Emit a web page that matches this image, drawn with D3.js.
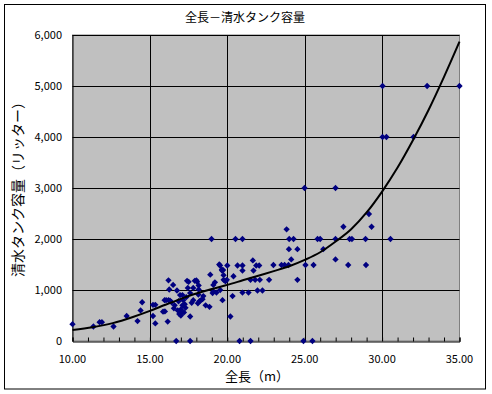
<!DOCTYPE html>
<html>
<head>
<meta charset="utf-8">
<script src="https://cdn.jsdelivr.net/npm/d3@7"></script>
<style>
  body { margin: 0; background: #fff; }
  svg text { font-family: "Noto Sans CJK JP", "DejaVu Sans", sans-serif; fill: #000; }
</style>
</head>
<body>
<svg id="chart" width="492" height="394"></svg>
<script>
// scatter points: length (m) and fresh water tank (L)
const lengthM = [
  10.0, 11.35, 11.75, 11.9, 12.65, 13.5, 14.2, 14.4, 14.5,
  15.2, 15.2, 15.35, 15.35, 15.85, 15.95, 16.05, 16.2, 16.3, 15.97, 16.15,
  16.2, 16.5, 16.25, 16.75, 16.7, 16.8, 16.85, 16.9, 16.95, 17.1, 17.0, 17.0,
  17.1, 17.15, 17.2, 17.3, 17.4, 17.45, 17.5, 17.6, 17.6, 17.6, 17.7, 17.8,
  17.9, 18.05, 18.0, 18.15, 18.15, 18.13, 18.2, 18.3, 18.45, 18.6, 18.85,
  18.9, 18.98, 19.05, 19.1, 19.1, 19.3, 19.48, 19.53, 19.65, 19.66, 19.69,
  19.73, 19.76, 19.76, 19.88, 19.97, 20.0, 19.54, 20.2, 20.34, 20.4, 20.53,
  20.66, 20.79, 20.98, 20.98, 20.98, 20.98, 21.37, 21.5, 21.5, 21.65, 21.69,
  21.87, 21.8, 21.95, 22.06, 22.1, 22.27, 22.7, 22.98, 23.5, 23.7, 23.83,
  23.95, 23.98, 24.0, 24.13, 24.28, 24.53, 24.53, 24.92, 24.99, 25.05, 25.5,
  25.57, 25.83, 26.0, 26.2, 26.99, 26.99, 26.99, 27.5, 27.81, 27.9, 28.05,
  28.93, 28.96, 29.15, 29.32, 30.03, 30.03, 30.28, 30.54, 32.03, 32.91, 35.0,
  16.6, 16.4, 17.35, 17.8, 18.1, 17.25, 19.2, 16.55, 17.05, 18.4
];
const tankL = [
  330, 285, 370, 370, 285, 490, 390, 600, 760,
  710, 490, 345, 710, 575, 800, 800, 800, 790, 580, 380,
  1190, 1100, 1010, 990, 0, 600, 780, 530, 900, 900, 620, 500,
  700, 800, 560, 650, 1180, 1040, 1160, 940, 0, 480, 750, 1040,
  1180, 1160, 1190, 1090, 1010, 910, 780, 800, 880, 700, 670,
  1300, 2000, 940, 1100, 970, 950, 1500, 1480, 1400, 1380, 800,
  1390, 1290, 1200, 1170, 1200, 1480, 1000, 480, 880, 1270, 2000,
  1480, 0, 2000, 1480, 1380, 950, 950, 0, 1200, 1580, 1380,
  1480, 1200, 990, 1480, 1200, 990, 1200, 1490, 1490, 1490, 2190,
  1490, 1800, 2000, 1600, 2000, 1800, 1200, 0, 3000, 1490, 0,
  1490, 2000, 2000, 1800, 3000, 2000, 1600, 2240, 1490, 2000, 2000,
  2000, 1490, 2490, 2240, 5000, 4000, 4000, 2000, 4000, 5000, 5000,
  700, 760, 860, 800, 740, 720, 1150, 640, 560, 820
];

// trend line
const trendX = [10, 11.3, 12.6, 13.9, 15, 16, 17, 18, 19, 20, 21, 22, 23, 24, 25, 26, 27, 28, 29, 30, 31, 32, 33, 34, 35];
const trendY = [215, 270, 350, 470, 590, 710, 825, 930, 1020, 1100, 1190, 1280, 1370, 1465, 1590, 1740, 1950, 2190, 2520, 2930, 3400, 3940, 4530, 5180, 5870];

const xTicks = [10, 15, 20, 25, 30, 35];
const yTicks = [0, 1000, 2000, 3000, 4000, 5000, 6000];

const title = "全長－清水タンク容量";
const xTitle = "全長（m）";
const yTitle = "清水タンク容量（リッター）";

const svg = d3.select("#chart");

// outer frame
svg.append("rect")
  .attr("x", 4.5).attr("y", 4.5)
  .attr("width", 481).attr("height", 384.5)
  .attr("fill", "#fff").attr("stroke", "#000");

const x = d3.scaleLinear().domain([10, 35]).range([72.5, 459.5]);
const y = d3.scaleLinear().domain([0, 6000]).range([341, 35]);

// plot area
svg.append("rect")
  .attr("x", x(10)).attr("y", y(6000))
  .attr("width", x(35) - x(10)).attr("height", y(0) - y(6000))
  .attr("fill", "#c0c0c0").attr("stroke", "#808080");

// grid
svg.append("g").selectAll("line")
  .data(yTicks.filter(d => d > 0))
  .join("line")
  .attr("x1", x(10)).attr("x2", x(35))
  .attr("y1", d => Math.round(y(d)) + 0.5).attr("y2", d => Math.round(y(d)) + 0.5)
  .attr("stroke", "#000");

svg.append("g").selectAll("line")
  .data(xTicks.filter(d => d > 10 && d < 35))
  .join("line")
  .attr("x1", d => Math.round(x(d)) + 0.5).attr("x2", d => Math.round(x(d)) + 0.5)
  .attr("y1", y(6000)).attr("y2", y(0))
  .attr("stroke", "#000");

// x axis with inner minor ticks
const xAxis = d3.axisBottom(x).tickValues(d3.range(10, 36, 1)).tickSize(-4).tickFormat("");
svg.append("g")
  .attr("transform", `translate(0,${Math.round(y(0)) + 0.5})`)
  .call(xAxis)
  .call(g => g.select(".domain").attr("stroke", "#000"));

svg.append("g").selectAll("text")
  .data(xTicks)
  .join("text")
  .attr("x", d => x(d))
  .attr("y", 363)
  .attr("text-anchor", "middle")
  .attr("font-size", 11)
  .text(d => d3.format(".2f")(d));

// y axis
svg.append("line")
  .attr("x1", x(10) + 0.5).attr("x2", x(10) + 0.5)
  .attr("y1", y(6000)).attr("y2", y(0))
  .attr("stroke", "#000");

svg.append("g").selectAll("text")
  .data(yTicks)
  .join("text")
  .attr("x", 62)
  .attr("y", d => y(d) + 4)
  .attr("text-anchor", "end")
  .attr("font-size", 11)
  .text(d => d3.format(",")(d));

// points
const pts = lengthM.map((d, i) => ({ x: d, y: tankL[i] }));
const diamond = d3.symbol(d3.symbolSquare, 20)();
svg.append("g").selectAll("path")
  .data(pts)
  .join("path")
  .attr("d", diamond)
  .attr("transform", d => `translate(${x(d.x)},${y(d.y)}) rotate(45)`)
  .attr("fill", "#000080");

// trend line
const line = d3.line()
  .x(d => x(d[0])).y(d => y(d[1]))
  .curve(d3.curveMonotoneX);
svg.append("path")
  .datum(trendX.map((d, i) => [d, trendY[i]]))
  .attr("d", line)
  .attr("fill", "none")
  .attr("stroke", "#000")
  .attr("stroke-width", 2);

// titles
svg.append("text")
  .attr("x", 245).attr("y", 22)
  .attr("text-anchor", "middle")
  .attr("font-size", 12)
  .text(title);

svg.append("text")
  .attr("x", 257).attr("y", 381)
  .attr("text-anchor", "middle")
  .attr("font-size", 13)
  .text(xTitle);

svg.append("text")
  .attr("transform", "translate(23,186) rotate(-90)")
  .attr("text-anchor", "middle")
  .attr("font-size", 14)
  .text(yTitle);
</script>
</body>
</html>
